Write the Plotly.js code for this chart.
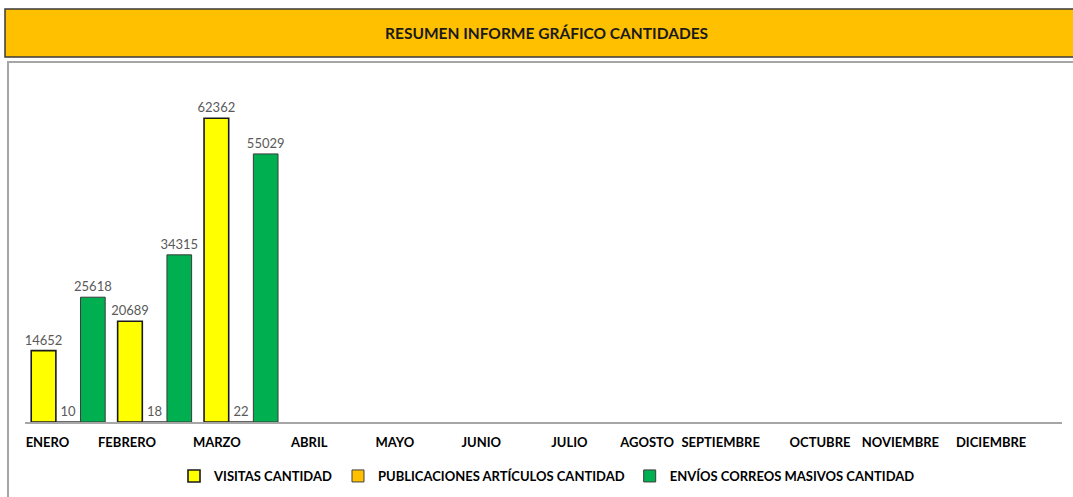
<!DOCTYPE html>
<html>
<head>
<meta charset="utf-8">
<script src="https://cdn.plot.ly/plotly-3.0.1.min.js"></script>
<style>
  html, body { margin: 0; padding: 0; background: #ffffff; }
  #chart { width: 1073px; height: 497px; }
</style>
</head>
<body>
<div id="chart"></div>
<script>
// ---- data ----
const months = ['ENERO', 'FEBRERO', 'MARZO', 'ABRIL', 'MAYO', 'JUNIO', 'JULIO', 'AGOSTO', 'SEPTIEMBRE', 'OCTUBRE', 'NOVIEMBRE', 'DICIEMBRE'];
const visitas = [14652, 20689, 62362, null, null, null, null, null, null, null, null, null];
const publicaciones = [10, 18, 22, null, null, null, null, null, null, null, null, null];
const envios = [25618, 34315, 55029, null, null, null, null, null, null, null, null, null];
const seriesNames = ['VISITAS CANTIDAD', 'PUBLICACIONES ARTÍCULOS CANTIDAD', 'ENVÍOS CORREOS MASIVOS CANTIDAD'];
const chartTitle = 'RESUMEN INFORME GRÁFICO CANTIDADES';

// ---- layout helpers ----
const labelNudge = [-0.24, -0.32, -0.28, -0.21, -0.22, -0.22, -0.2, -0.3, -0.45, -0.3, -0.37, -0.32];
const idx = months.map((m, i) => i);

const FONT = 'Lato, "Open Sans", sans-serif';
const W = 1073, H = 497;
const L = 25, R = 11, T = 81, B = 75;
const pw = W - L - R, ph = H - T - B;
const px = x => (x - L) / pw;
const py = y => (H - B - y) / ph;

function barTrace(name, vals, color, lineColor, lineWidth) {
  return {
    type: 'bar',
    name: name,
    x: idx,
    y: vals,
    marker: { color: color, line: { color: lineColor, width: lineWidth } },
    text: vals.map(v => v == null ? '' : String(v)),
    textposition: 'outside',
    constraintext: 'none',
    cliponaxis: false,
    textfont: { family: FONT, size: 13, color: '#595959' },
    hoverinfo: 'x+y'
  };
}

const data = [
  barTrace(seriesNames[0], visitas, '#FFFF00', '#1a1a1a', 1.6),
  barTrace(seriesNames[1], publicaciones, '#FFC000', '#404040', 1),
  barTrace(seriesNames[2], envios, '#00B050', '#3a3a3a', 1)
];

const layout = {
  width: W, height: H,
  margin: { l: L, r: R, t: T, b: B, pad: 0, autoexpand: false },
  paper_bgcolor: '#ffffff',
  plot_bgcolor: '#ffffff',
  barmode: 'group',
  bargap: 0.144,
  bargroupgap: 0,
  showlegend: true,
  legend: {
    orientation: 'h',
    x: px(547), xanchor: 'center',
    y: py(476), yanchor: 'middle',
    font: { family: FONT, size: 13, color: '#000000', weight: 'bold' },
    itemwidth: 30,
    tracegroupgap: 0
  },
  xaxis: {
    type: 'linear',
    range: [-0.5, 11.5],
    tickmode: 'array',
    tickvals: idx.map(i => i + labelNudge[i]),
    ticktext: months,
    showgrid: false,
    zeroline: false,
    showline: true,
    linecolor: '#a6a6a6',
    linewidth: 2,
    ticks: '',
    ticklabelstandoff: 7,
    tickfont: { family: FONT, size: 13, color: '#000000', weight: 'bold' },
    fixedrange: true
  },
  yaxis: {
    range: [0, 70000],
    showgrid: false,
    zeroline: false,
    showline: false,
    showticklabels: false,
    ticks: '',
    fixedrange: true
  },
  shapes: [
    // title bar
    { type: 'rect', xref: 'paper', yref: 'paper',
      x0: px(5), x1: px(1080), y0: py(57), y1: py(9),
      fillcolor: '#FFC000', line: { color: '#3a3a3a', width: 1.5 }, layer: 'below' },
    // chart frame
    { type: 'rect', xref: 'paper', yref: 'paper',
      x0: px(8), x1: px(1080), y0: py(505), y1: py(62),
      fillcolor: 'rgba(0,0,0,0)', line: { color: '#a6a6a6', width: 2 }, layer: 'below' }
  ],
  annotations: [
    { xref: 'paper', yref: 'paper', x: px(546), y: py(33),
      xanchor: 'center', yanchor: 'middle', showarrow: false,
      text: chartTitle,
      font: { family: FONT, size: 15.5, color: '#1a1a1a', weight: 'bold' } }
  ]
};

Plotly.newPlot('chart', data, layout, { displayModeBar: false, staticPlot: true });
</script>
</body>
</html>
